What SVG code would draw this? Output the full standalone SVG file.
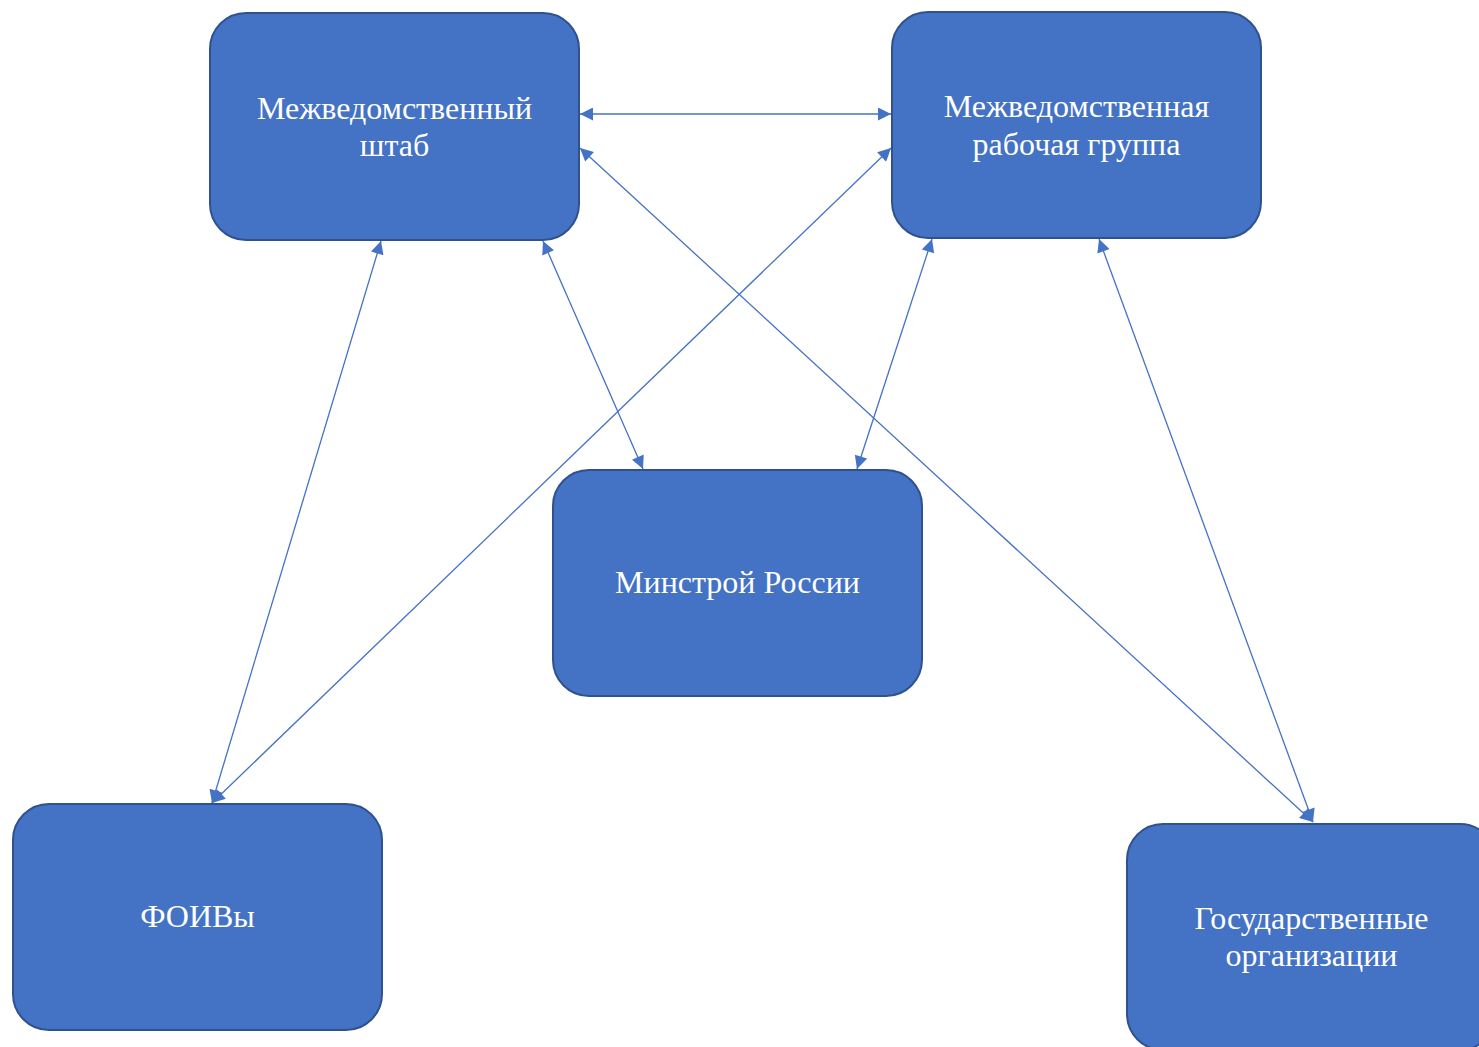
<svg xmlns="http://www.w3.org/2000/svg" width="1479" height="1047" viewBox="0 0 1479 1047">
<style>
.box{fill:#4472C4;stroke:#2F528F;stroke-width:2}
.lbl{font-family:"Liberation Serif","Times New Roman",serif;font-size:32px;fill:#FFFFFF;text-anchor:middle}
.con{stroke:#4472C4;stroke-width:1.3;fill:none;marker-start:url(#ah);marker-end:url(#ah)}
</style>
<defs>
<marker id="ah" viewBox="0 0 10 10" refX="10" refY="5" markerWidth="15" markerHeight="13" markerUnits="userSpaceOnUse" orient="auto-start-reverse">
<path d="M0,0 L10,5 L0,10 Z" fill="#4472C4"/>
</marker>
</defs>
<rect width="1479" height="1047" fill="#FFFFFF"/>
<g id="connectors">
<line class="con" x1="580" y1="114" x2="891" y2="114"/>
<line class="con" x1="580" y1="148" x2="1313" y2="822"/>
<line class="con" x1="891" y1="148" x2="212" y2="803"/>
<line class="con" x1="381" y1="241" x2="212" y2="803"/>
<line class="con" x1="543" y1="241" x2="643" y2="469"/>
<line class="con" x1="932" y1="239" x2="857" y2="469"/>
<line class="con" x1="1099" y1="239" x2="1313" y2="822"/>
</g>
<g id="node-shtab">
<rect class="box" x="210" y="13" width="369" height="227" rx="36"/>
<text class="lbl" x="394.5" y="119">Межведомственный</text>
<text class="lbl" x="394.5" y="156">штаб</text>
</g>
<g id="node-rabgr">
<rect class="box" x="892" y="12" width="369" height="226" rx="36"/>
<text class="lbl" x="1076.5" y="117">Межведомственная</text>
<text class="lbl" x="1076.5" y="155">рабочая группа</text>
</g>
<g id="node-minstroy">
<rect class="box" x="553" y="470" width="369" height="226" rx="36"/>
<text class="lbl" x="737.5" y="593">Минстрой России</text>
</g>
<g id="node-foiv">
<rect class="box" x="13" y="804" width="369" height="226" rx="36"/>
<text class="lbl" x="197.5" y="927">ФОИВы</text>
</g>
<g id="node-gosorg">
<rect class="box" x="1127" y="824" width="369" height="226" rx="36"/>
<text class="lbl" x="1311.5" y="929">Государственные</text>
<text class="lbl" x="1311.5" y="966">организации</text>
</g>
</svg>
